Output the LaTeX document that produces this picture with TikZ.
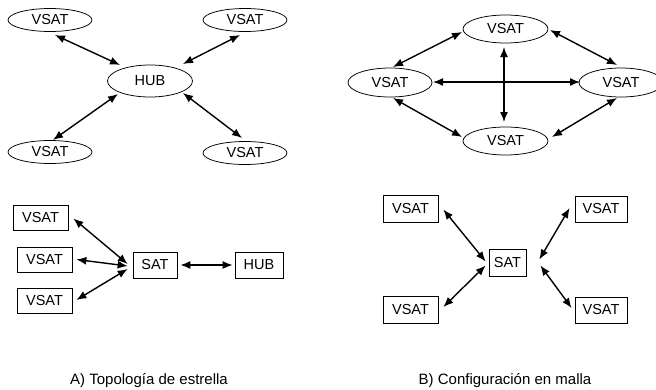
\documentclass[tikz,border=0pt]{standalone}
\usepackage{fontspec}
\setmainfont{Liberation Sans}
\usetikzlibrary{arrows.meta,shapes.geometric}
\begin{document}
\begin{tikzpicture}[x=1pt,y=-1pt,
  lbl/.style={font=\fontsize{14.5}{16}\selectfont},
  ellnode/.style={lbl, draw, ellipse, line width=0.75pt, inner sep=0pt},
  boxnode/.style={lbl, draw, rectangle, line width=0.75pt, inner sep=0pt, minimum height=26pt},
  biarr/.style={{Latex[length=10pt,width=8pt]}-{Latex[length=10pt,width=8pt]}, line width=1.4pt},
  caption/.style={font=\fontsize{15}{17}\selectfont, anchor=base}]
\useasboundingbox (0,0) rectangle (656,389);

% ---- A: star (top)
\node[ellnode, minimum width=84pt, minimum height=23pt] (tlA) at (50,20) {VSAT};
\node[ellnode, minimum width=84pt, minimum height=23pt] (trA) at (245,20) {VSAT};
\node[ellnode, minimum width=85pt, minimum height=32pt] (hubA) at (150,81) {HUB};
\node[ellnode, minimum width=84pt, minimum height=23pt] (blA) at (50,152) {VSAT};
\node[ellnode, minimum width=84pt, minimum height=23pt] (brA) at (245,153) {VSAT};
\draw[biarr] ([shift={(5,15)}]tlA.center) -- ([shift={(-30,-16)}]hubA.center);
\draw[biarr] ([shift={(-5,15)}]trA.center) -- ([shift={(33,-17)}]hubA.center);
\draw[biarr] ([shift={(3,-12)}]blA.center) -- ([shift={(-32,13)}]hubA.center);
\draw[biarr] ([shift={(-3,-15)}]brA.center) -- ([shift={(33,12)}]hubA.center);

% ---- B: mesh (top)
\node[ellnode, minimum width=85pt, minimum height=28pt] (mT) at (505.5,29) {VSAT};
\node[ellnode, minimum width=84pt, minimum height=29pt] (mL) at (390,82.5) {VSAT};
\node[ellnode, minimum width=84pt, minimum height=29pt] (mR) at (621,82.5) {VSAT};
\node[ellnode, minimum width=85pt, minimum height=28pt] (mB) at (505.5,141) {VSAT};
\draw[biarr] ([shift={(3,-15.5)}]mL.center) -- ([shift={(-43.5,3)}]mT.center);
\draw[biarr] ([shift={(44.5,1)}]mT.center) -- ([shift={(-4,-17.5)}]mR.center);
\draw[biarr] ([shift={(-1.5,18)}]mT.center) -- ([shift={(-1.5,-19)}]mB.center);
\draw[biarr] ([shift={(43,-0.5)}]mL.center) -- ([shift={(-41,-0.5)}]mR.center);
\draw[biarr] ([shift={(3,15.5)}]mL.center) -- ([shift={(-43.5,-4)}]mB.center);
\draw[biarr] ([shift={(46.5,-4)}]mB.center) -- ([shift={(-4,15.5)}]mR.center);

% ---- A: star (bottom)
\node[boxnode, minimum width=55pt, minimum height=25pt] (v1) at (40.5,217.5) {VSAT};
\node[boxnode, minimum width=55pt, minimum height=25pt] (v2) at (44.5,259.5) {VSAT};
\node[boxnode, minimum width=55pt, minimum height=25pt] (v3) at (44.5,301) {VSAT};
\node[boxnode, minimum width=44pt] (sat1) at (155,265) {SAT};
\node[boxnode, minimum width=48pt] (hub1) at (259,265) {HUB};
\draw[biarr] ([shift={(5,1)}]v1.east) -- ([shift={(-5,-1)}]sat1.west);
\draw[biarr] ([shift={(4,0)}]v2.east) -- ([shift={(-5,1)}]sat1.west);
\draw[biarr] ([shift={(4,-1)}]v3.east) -- ([shift={(-5,4)}]sat1.west);
\draw[biarr] ([shift={(3,0)}]sat1.east) -- ([shift={(-2,0)}]hub1.west);

% ---- B: mesh (bottom)
\node[boxnode, minimum width=55pt, minimum height=27pt] (w1) at (410.5,208.5) {VSAT};
\node[boxnode, minimum width=52pt] (w2) at (601,209) {VSAT};
\node[boxnode, minimum width=37pt, minimum height=27pt] (sat2) at (507.5,262.5) {SAT};
\node[boxnode, minimum width=55pt, minimum height=27pt] (w3) at (410.5,310) {VSAT};
\node[boxnode, minimum width=52pt] (w4) at (601,310) {VSAT};
\draw[biarr] ([shift={(5,1)}]w1.east) -- ([shift={(-3,-1)}]sat2.west);
\draw[biarr] ([shift={(5,-3)}]w3.east) -- ([shift={(-3,3)}]sat2.west);
\draw[biarr] ([shift={(-5,-1)}]w2.west) -- ([shift={(13,-3)}]sat2.east);
\draw[biarr] ([shift={(-3,-2)}]w4.west) -- ([shift={(14,3)}]sat2.east);

% ---- captions
\node[caption] (capA) at (149,384) {A) Topología de estrella};
\node[caption] (capB) at (505,384) {B) Configuración en malla};
\end{tikzpicture}
\end{document}
